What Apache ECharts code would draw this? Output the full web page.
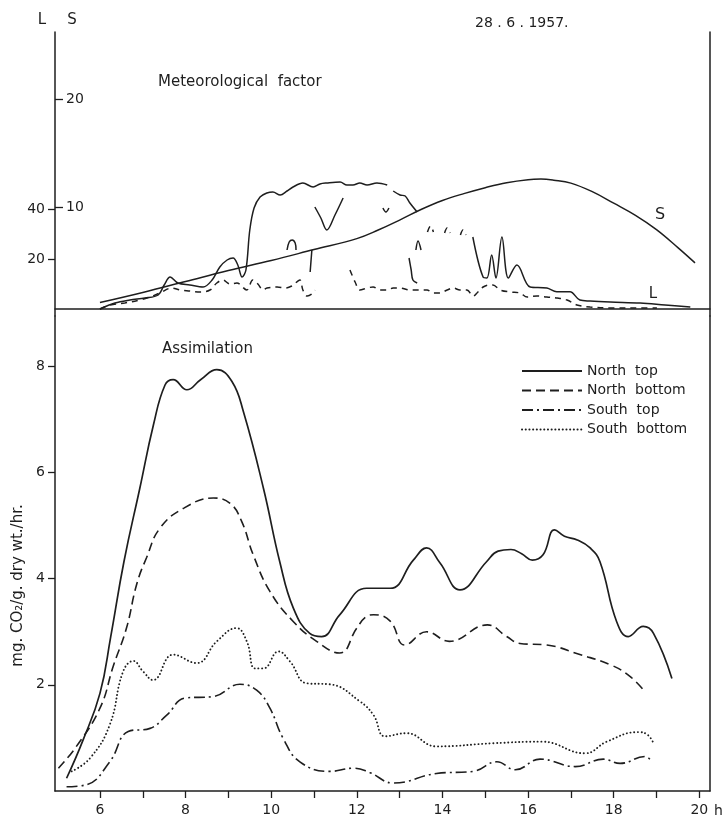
<!DOCTYPE html>
<html>
<head>
<meta charset="utf-8">
<script src="https://cdn.jsdelivr.net/npm/echarts@6/dist/echarts.min.js"></script>
<style>
html,body{margin:0;padding:0;background:#fff;}
#chart{width:722px;height:819px;}
</style>
</head>
<body>
<div id="chart"></div>
<script>
// ---------- Data (hours of day, values) ----------
// Top panel: meteorological factor
const sHours = [6.0, 7.0, 8.0, 9.0, 10.0, 11.0, 12.0, 12.5, 13.0, 13.5, 14.0, 14.5, 15.0, 15.5, 16.0, 16.3, 16.6, 17.0, 17.5, 18.0, 18.5, 19.0, 19.5, 19.9];
const sValues = [1.24, 2.17, 3.18, 4.19, 5.12, 6.13, 7.14, 7.93, 8.85, 9.82, 10.65, 11.29, 11.84, 12.3, 12.58, 12.63, 12.53, 12.26, 11.47, 10.41, 9.31, 7.97, 6.31, 4.9];

// L (solid trace) – null marks a break in the pen trace
const lSolidHours = [6.0, 6.35, 6.7, 7.05, 7.36, 7.5, 7.64, 7.82, 8.1, 8.41, 8.62, 8.8, 8.97, 9.11, 9.22, 9.32, 9.41, 9.5, 9.6, 9.74, 9.9, 10.04, 10.21, 10.37, 10.51, 10.74, 10.98, 11.14, 11.3, 11.61, 11.77, 11.91, 12.07, 12.24, 12.47, 12.71, null,
  12.85, 13.01, 13.13, 13.24, 13.41, null,
  11.02, 11.16, 11.3, 11.49, 11.68, null,
  12.61, 12.68, 12.75, null,
  10.37, 10.42, 10.49, 10.56, 10.58, null,
  10.95, 10.91, null,
  13.22, 13.27, 13.31, 13.41, null,
  13.38, 13.43, 13.5, null,
  14.71, 14.95, 15.04, 15.15, 15.25, 15.39, 15.54, 15.74, 16.05, 16.44, 16.67, 16.98, 17.21, 17.45, 17.92, 18.62, 19.2, 19.79];
const lSolidValues = [0, 2.4, 3.6, 4.4, 5.6, 9.6, 12.8, 10.4, 9.6, 8.8, 11.6, 16.8, 19.6, 20.4, 17.6, 12.8, 15.6, 31.6, 40.4, 44.8, 46.4, 46.8, 45.6, 47.2, 48.8, 50.4, 48.8, 50, 50.4, 50.8, 49.6, 49.6, 50.4, 49.6, 50.4, 49.6, null,
  47.2, 45.6, 45.2, 42.4, 38.8, null,
  40.8, 36.4, 31.6, 37.6, 44.4, null,
  40.4, 38.8, 40.4, null,
  23.6, 26.8, 27.6, 26.4, 23.6, null,
  23.6, 14.8, null,
  20.4, 15.6, 11.6, 10.4, null,
  23.6, 27.2, 23.6, null,
  28.8, 12.8, 12.4, 21.6, 12.4, 28.8, 12.4, 17.6, 8.8, 8.4, 6.9, 6.9, 3.6, 3.2, 2.8, 2.4, 1.6, 0.8];

// L (dashed trace)
const lDashHours = [6.0, 6.23, 6.58, 6.93, 7.17, 7.4, 7.68, 7.87, 8.1, 8.34, 8.57, 8.73, 8.87, 9.04, 9.2, 9.43, 9.57, 9.69, 9.81, 9.9, 10.14, 10.32, 10.48, 10.67, 10.74, 10.84, 10.95, 11.02, null,
  11.84, 11.96, 12.07, 12.24, 12.38, 12.54, 12.71, 12.85, 13.01, 13.24, 13.43, 13.64, 13.78, 13.94, 14.11, 14.25, 14.41, 14.57, 14.72, 14.83, 14.95, 15.09, 15.18, 15.35, 15.58, 15.81, 15.98, 16.21, 16.44, 16.68, 16.91, 17.14, 17.45, 17.99, 18.62, 19.01, null,
  13.65, 13.72, 13.79, null,
  14.05, 14.11, 14.18, null,
  14.42, 14.48, 14.55];
const lDashValues = [0, 1.6, 2.4, 3.6, 4.8, 6.4, 8.4, 7.6, 7.2, 6.8, 7.6, 10.4, 11.6, 10, 10.4, 7.6, 11.6, 10, 7.6, 8.4, 8.8, 8.4, 9.2, 11.6, 7.6, 5.2, 6, 7.6, null,
  15.6, 10.8, 7.6, 8.4, 8.8, 7.6, 7.6, 8.4, 8.4, 7.6, 7.6, 7.6, 6.4, 6.4, 7.6, 8.4, 7.6, 7.6, 5.2, 6.8, 8.8, 9.6, 9.6, 7.6, 6.8, 6.4, 4.8, 5.2, 4.8, 4.4, 3.6, 1.6, 0.8, 0.4, 0.4, 0.4, null,
  30.8, 33.2, 30.8, null,
  30.4, 32.4, 30.4, null,
  29.6, 31.6, 29.6];

// Bottom panel: assimilation (mg CO2 / g dry wt / hr)
const northTopHours = [5.22, 5.6, 6.0, 6.25, 6.56, 6.93, 7.25, 7.52, 7.71, 8.03, 8.35, 8.73, 9.08, 9.35, 9.82, 10.2, 10.52, 10.9, 11.18, 11.6, 12.23, 12.78, 13.32, 13.63, 13.94, 14.41, 15.03, 15.3, 15.6, 15.85, 16.1, 16.35, 16.62, 16.85, 17.15, 17.45, 17.68, 18.07, 18.34, 18.69, 18.93, 19.36];
const northTopValues = [0.24, 0.95, 1.84, 2.9, 4.32, 5.7, 6.9, 7.65, 7.75, 7.56, 7.75, 7.94, 7.72, 7.15, 5.7, 4.32, 3.44, 2.97, 2.91, 3.32, 3.82, 3.82, 4.35, 4.58, 4.3, 3.79, 4.32, 4.52, 4.55, 4.47, 4.35, 4.45, 4.92, 4.8, 4.73, 4.58, 4.32, 3.19, 2.91, 3.1, 2.97, 2.12];

const northBottomHours = [5.03, 5.45, 6.0, 6.31, 6.62, 6.86, 7.09, 7.4, 7.96, 8.65, 9.04, 9.31, 9.58, 9.97, 10.52, 11.06, 11.6, 12.0, 12.23, 12.39, 12.78, 13.12, 13.63, 14.16, 15.05, 15.5, 15.81, 16.44, 17.21, 17.92, 18.38, 18.73];
const northBottomValues = [0.43, 0.84, 1.56, 2.35, 3.07, 3.9, 4.4, 4.95, 5.33, 5.52, 5.42, 5.08, 4.45, 3.76, 3.19, 2.82, 2.6, 3.07, 3.29, 3.32, 3.2, 2.75, 3.0, 2.82, 3.13, 2.91, 2.78, 2.75, 2.57, 2.38, 2.16, 1.87];

const southTopHours = [5.22, 5.69, 6.23, 6.66, 7.17, 7.56, 7.99, 8.65, 9.27, 9.66, 9.97, 10.28, 10.67, 11.37, 11.92, 12.3, 12.85, 13.86, 14.72, 15.27, 15.7, 16.28, 17.1, 17.76, 18.15, 18.73, 18.89];
const southTopValues = [0.08, 0.12, 0.55, 1.12, 1.18, 1.43, 1.75, 1.78, 2.01, 1.9, 1.56, 0.99, 0.55, 0.37, 0.43, 0.35, 0.15, 0.33, 0.37, 0.55, 0.4, 0.6, 0.46, 0.6, 0.52, 0.65, 0.55];

const southBottomHours = [5.34, 5.77, 6.23, 6.54, 6.78, 7.01, 7.24, 7.71, 8.26, 8.73, 9.19, 9.43, 9.62, 9.82, 10.17, 10.44, 10.83, 11.37, 12.07, 12.39, 12.66, 13.16, 13.86, 15.19, 16.32, 17.33, 17.84, 18.57, 18.79, 18.93];
const southBottomValues = [0.37, 0.62, 1.25, 2.25, 2.45, 2.25, 2.09, 2.57, 2.41, 2.82, 3.07, 2.82, 2.31, 2.31, 2.63, 2.44, 2.03, 2.01, 1.69, 1.43, 1.03, 1.09, 0.84, 0.9, 0.93, 0.71, 0.93, 1.11, 1.06, 0.9];

// Tick labels
const hourTicks = [6, 7, 8, 9, 10, 11, 12, 13, 14, 15, 16, 17, 18, 19, 20];
const hourLabels = [6, 8, 10, 12, 14, 16, 18, 20];
const lTicks = [20, 40];
const sTicks = [10, 20];
const assimTicks = [2, 4, 6, 8];
const seriesNames = ['North  top', 'North  bottom', 'South  top', 'South  bottom'];

// ---------- Build ----------
const INK = '#1e1e1e';
const FONT = '"DejaVu Sans", sans-serif';
function pairs(h, v) {
  return h.map((x, i) => (x === null || v[i] === null) ? ['-', '-'] : [x, v[i]]);
}

const chart = echarts.init(document.getElementById('chart'), null, {renderer: 'canvas'});

const xCommon = {
  type: 'value', min: 4.95, max: 20.25,
  splitLine: {show: false},
  axisLine: {show: true, lineStyle: {color: INK, width: 1.5}}
};

const option = {
  backgroundColor: '#fff',
  animation: false,
  textStyle: {fontFamily: FONT, color: INK},
  grid: [
    {left: 55, right: 12, top: 32, height: 284, outerBoundsMode: 'none', containLabel: false},
    {left: 55, right: 12, top: 316, height: 475, outerBoundsMode: 'none', containLabel: false}
  ],
  xAxis: [
    Object.assign({}, xCommon, {gridIndex: 0, axisTick: {show: false}, axisLabel: {show: false}}),
    Object.assign({}, xCommon, {
      gridIndex: 1,
      axisTick: {show: true, length: 7, customValues: hourTicks, lineStyle: {color: INK, width: 1.3}},
      axisLabel: {show: true, customValues: hourLabels, margin: 12, fontSize: 14, color: INK, fontFamily: FONT},
      name: 'h', nameLocation: 'end', nameGap: 3,
      nameTextStyle: {fontSize: 14, color: INK, fontFamily: FONT, verticalAlign: 'top', padding: [13, 0, 0, 0]}
    })
  ],
  yAxis: [
    { // L scale
      type: 'value', gridIndex: 0, position: 'left', min: -2.8, max: 110.8,
      splitLine: {show: false},
      axisLine: {show: true, lineStyle: {color: INK, width: 1.5}},
      axisTick: {show: true, length: 7, customValues: lTicks, lineStyle: {color: INK, width: 1.3}},
      axisLabel: {show: true, customValues: lTicks, margin: 10, fontSize: 14, color: INK, fontFamily: FONT}
    },
    { // S scale
      type: 'value', gridIndex: 0, position: 'left', min: 0, max: 26.2,
      splitLine: {show: false},
      axisLine: {show: false},
      axisTick: {show: true, inside: true, length: 8, customValues: sTicks, lineStyle: {color: INK, width: 1.3}},
      axisLabel: {show: true, inside: true, customValues: sTicks, margin: 11, fontSize: 14, color: INK, fontFamily: FONT}
    },
    { // right frame, top
      type: 'value', gridIndex: 0, position: 'right', min: 0, max: 1,
      splitLine: {show: false}, axisTick: {show: false}, axisLabel: {show: false},
      axisLine: {show: true, lineStyle: {color: INK, width: 1.5}}
    },
    { // assimilation
      type: 'value', gridIndex: 1, position: 'left', min: 0, max: 8.95,
      splitLine: {show: false},
      axisLine: {show: true, lineStyle: {color: INK, width: 1.5}},
      axisTick: {show: true, length: 7, customValues: assimTicks, lineStyle: {color: INK, width: 1.3}},
      axisLabel: {show: true, customValues: assimTicks, margin: 10, fontSize: 14, color: INK, fontFamily: FONT},
      name: 'mg. CO\u2082/g. dry wt./hr.', nameLocation: 'middle', nameGap: 29, nameRotate: 90,
      nameTextStyle: {fontSize: 15, color: INK, fontFamily: FONT, padding: [0, 64, 0, 0]}
    },
    { // right frame, bottom
      type: 'value', gridIndex: 1, position: 'right', min: 0, max: 1,
      splitLine: {show: false}, axisTick: {show: false}, axisLabel: {show: false},
      axisLine: {show: true, lineStyle: {color: INK, width: 1.5}}
    }
  ],
  legend: {
    orient: 'vertical', left: 521, top: 364, padding: 0,
    itemWidth: 60, itemHeight: 14, itemGap: 5.5,
    data: seriesNames,
    itemStyle: {opacity: 0},
    textStyle: {fontSize: 14, color: INK, fontFamily: FONT},
    selectedMode: false
  },
  series: [
    {name: 'S', type: 'line', xAxisIndex: 0, yAxisIndex: 1, data: pairs(sHours, sValues), smooth: 0.4, symbol: 'none',
     lineStyle: {color: INK, width: 1.5}},
    {name: 'L', type: 'line', xAxisIndex: 0, yAxisIndex: 0, data: pairs(lSolidHours, lSolidValues), smooth: 0.35, symbol: 'none', connectNulls: false,
     lineStyle: {color: INK, width: 1.5}},
    {name: 'L dashed', type: 'line', xAxisIndex: 0, yAxisIndex: 0, data: pairs(lDashHours, lDashValues), smooth: 0.35, symbol: 'none', connectNulls: false,
     lineStyle: {color: INK, width: 1.5, type: [6, 5]}},
    {name: seriesNames[0], type: 'line', xAxisIndex: 1, yAxisIndex: 3, data: pairs(northTopHours, northTopValues), smooth: 0.45, symbol: 'none',
     lineStyle: {color: INK, width: 1.7}, itemStyle: {color: INK}},
    {name: seriesNames[1], type: 'line', xAxisIndex: 1, yAxisIndex: 3, data: pairs(northBottomHours, northBottomValues), smooth: 0.45, symbol: 'none',
     lineStyle: {color: INK, width: 1.6, type: [9, 5]}, itemStyle: {color: INK}},
    {name: seriesNames[2], type: 'line', xAxisIndex: 1, yAxisIndex: 3, data: pairs(southTopHours, southTopValues), smooth: 0.45, symbol: 'none',
     lineStyle: {color: INK, width: 1.6, type: [11, 4, 2, 4]}, itemStyle: {color: INK}},
    {name: seriesNames[3], type: 'line', xAxisIndex: 1, yAxisIndex: 3, data: pairs(southBottomHours, southBottomValues), smooth: 0.45, symbol: 'none',
     lineStyle: {color: INK, width: 1.9, type: [0.1, 3.6], cap: 'round'}, itemStyle: {color: INK}}
  ],
  graphic: [
    {type: 'text', x: 42, y: 20, style: {text: 'L', font: '15px ' + FONT, fill: INK, align: 'center', verticalAlign: 'middle'}},
    {type: 'text', x: 72, y: 20, style: {text: 'S', font: '15px ' + FONT, fill: INK, align: 'center', verticalAlign: 'middle'}},
    {type: 'text', x: 475, y: 23, style: {text: '28 . 6 . 1957.', font: '14px ' + FONT, fill: INK, align: 'left', verticalAlign: 'middle'}},
    {type: 'text', x: 158, y: 82, style: {text: 'Meteorological  factor', font: '15px ' + FONT, fill: INK, align: 'left', verticalAlign: 'middle'}},
    {type: 'text', x: 162, y: 349, style: {text: 'Assimilation', font: '15px ' + FONT, fill: INK, align: 'left', verticalAlign: 'middle'}},
    {type: 'text', x: 660, y: 215, style: {text: 'S', font: '16px ' + FONT, fill: INK, align: 'center', verticalAlign: 'middle'}},
    {type: 'text', x: 653, y: 294, style: {text: 'L', font: '15px ' + FONT, fill: INK, align: 'center', verticalAlign: 'middle'}}
  ]
};
chart.setOption(option);
</script>
</body>
</html>
